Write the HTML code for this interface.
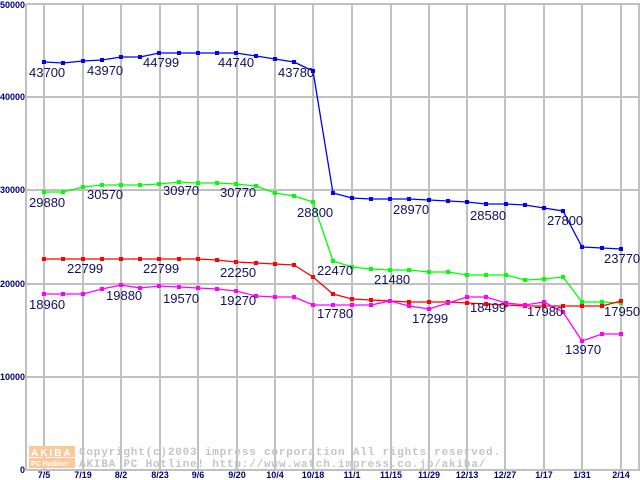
<!DOCTYPE html>
<html><head><meta charset="utf-8"><style>
html,body{margin:0;padding:0;background:#fff;}
svg{display:block;}
.yl{font:bold 9px "Liberation Sans",sans-serif;fill:#000080;}
.xl{font:bold 9px "Liberation Sans",sans-serif;fill:#000080;}
.v{font:13px "Liberation Sans",sans-serif;fill:#101060;}
.wm{font:bold 11px "Liberation Mono",monospace;fill:#c4c4c4;letter-spacing:0.8px;}
</style></head><body>
<svg width="640" height="480" viewBox="0 0 640 480" xmlns="http://www.w3.org/2000/svg">
<defs>
<marker id="mb" markerUnits="userSpaceOnUse" markerWidth="6" markerHeight="6" refX="3" refY="3"><rect width="4" height="4" x="1" y="1" fill="#0000ff"/></marker>
<marker id="mg" markerUnits="userSpaceOnUse" markerWidth="6" markerHeight="6" refX="3" refY="3"><rect width="4" height="4" x="1" y="1" fill="#00ff00"/></marker>
<marker id="mr" markerUnits="userSpaceOnUse" markerWidth="6" markerHeight="6" refX="3" refY="3"><rect width="4" height="4" x="1" y="1" fill="#ff0000"/></marker>
<marker id="mm" markerUnits="userSpaceOnUse" markerWidth="6" markerHeight="6" refX="3" refY="3"><rect width="4" height="4" x="1" y="1" fill="#ff00ff"/></marker>
</defs>
<g stroke="#c0c0c0" stroke-width="2">
<line x1="26" y1="4" x2="640" y2="4"/><line x1="26" y1="97" x2="640" y2="97"/>
<line x1="26" y1="190" x2="640" y2="190"/><line x1="26" y1="284" x2="640" y2="284"/>
<line x1="26" y1="377" x2="640" y2="377"/><line x1="26" y1="470" x2="640" y2="470"/>
<line x1="26" y1="4" x2="26" y2="470"/><line x1="639" y1="4" x2="639" y2="470"/>
<line x1="44" y1="4" x2="44" y2="470"/><line x1="83" y1="4" x2="83" y2="470"/>
<line x1="121" y1="4" x2="121" y2="470"/><line x1="160" y1="4" x2="160" y2="470"/>
<line x1="198" y1="4" x2="198" y2="470"/><line x1="237" y1="4" x2="237" y2="470"/>
<line x1="275" y1="4" x2="275" y2="470"/><line x1="313" y1="4" x2="313" y2="470"/>
<line x1="352" y1="4" x2="352" y2="470"/><line x1="391" y1="4" x2="391" y2="470"/>
<line x1="429" y1="4" x2="429" y2="470"/><line x1="467" y1="4" x2="467" y2="470"/>
<line x1="505" y1="4" x2="505" y2="470"/><line x1="544" y1="4" x2="544" y2="470"/>
<line x1="582" y1="4" x2="582" y2="470"/><line x1="621" y1="4" x2="621" y2="470"/>
</g>
<g text-anchor="end">
<text class="yl" x="25" y="8">50000</text><text class="yl" x="25" y="100">40000</text>
<text class="yl" x="25" y="193">30000</text><text class="yl" x="25" y="287">20000</text>
<text class="yl" x="25" y="380">10000</text><text class="yl" x="25" y="473">0</text>
</g>
<g text-anchor="middle">
<text class="xl" x="44" y="478">7/5</text><text class="xl" x="83" y="478">7/19</text>
<text class="xl" x="121" y="478">8/2</text><text class="xl" x="160" y="478">8/23</text>
<text class="xl" x="198" y="478">9/6</text><text class="xl" x="237" y="478">9/20</text>
<text class="xl" x="275" y="478">10/4</text><text class="xl" x="313" y="478">10/18</text>
<text class="xl" x="352" y="478">11/1</text><text class="xl" x="391" y="478">11/15</text>
<text class="xl" x="429" y="478">11/29</text><text class="xl" x="467" y="478">12/13</text>
<text class="xl" x="505" y="478">12/27</text><text class="xl" x="544" y="478">1/17</text>
<text class="xl" x="582" y="478">1/31</text><text class="xl" x="621" y="478">2/14</text>
</g>
<rect x="29" y="446" width="46" height="11" fill="#fbc89a"/>
<rect x="29" y="458" width="46" height="10" fill="#fbc89a"/>
<text x="31" y="456" style="font:bold 10px 'Liberation Sans',sans-serif;fill:#fff;letter-spacing:2px">AKIBA</text>
<text x="31" y="466" style="font:bold 7px 'Liberation Sans',sans-serif;fill:#fff">PC Hotline!</text>
<text class="wm" x="79" y="455">Copyright(c)2003 impress corporation All rights reserved.</text>
<text class="wm" x="79" y="467">AKIBA PC Hotline!  http://www.watch.impress.co.jp/akiba/</text>

<polyline fill="none" stroke="#0000ff" stroke-width="1.3" marker-start="url(#mb)" marker-mid="url(#mb)" marker-end="url(#mb)" points="44,62 63,63 83,61 102,60 121,57 140,57 159,53 179,53 198,53 217,53 236,53 256,56 275,59 294,62 313,71 333,193 352,198 371,199 390,199 409,199 429,200 448,201 467,202 486,204 506,204 525,205 544,208 563,211 582,247 602,248 621,249"/>
<polyline fill="none" stroke="#00ff00" stroke-width="1.3" marker-start="url(#mg)" marker-mid="url(#mg)" marker-end="url(#mg)" points="44,192 63,192 83,187 102,185 121,185 140,185 159,184 179,182 198,183 217,183 236,184 256,186 275,193 294,196 313,202 333,261 352,267 371,269 390,270 409,270 429,272 448,272 467,275 486,275 506,275 525,280 544,279 563,277 582,302 602,302 621,303"/>
<polyline fill="none" stroke="#ff0000" stroke-width="1.3" marker-start="url(#mr)" marker-mid="url(#mr)" marker-end="url(#mr)" points="44,259 63,259 83,259 102,259 121,259 140,259 159,259 179,259 198,259 217,260 236,262 256,263 275,264 294,265 313,277 333,294 352,299 371,300 390,301 409,302 429,302 448,302 467,303 486,304 506,305 525,306 544,306 563,306 582,306 602,306 621,301"/>
<polyline fill="none" stroke="#ff00ff" stroke-width="1.3" marker-start="url(#mm)" marker-mid="url(#mm)" marker-end="url(#mm)" points="44,294 63,294 83,294 102,289 121,285 140,288 159,286 179,287 198,288 217,289 236,291 256,296 275,297 294,297 313,305 333,305 352,305 371,305 390,301 409,306 429,309 448,303 467,297 486,297 506,303 525,305 544,302 563,312 582,341 602,334 621,334"/>

<text class="v" x="29" y="77">43700</text><text class="v" x="87" y="75">43970</text>
<text class="v" x="143" y="67">44799</text><text class="v" x="218" y="67">44740</text>
<text class="v" x="278" y="77">43780</text>
<text class="v" x="29" y="207">29880</text><text class="v" x="87" y="199">30570</text>
<text class="v" x="163" y="195">30970</text><text class="v" x="220" y="197">30770</text>
<text class="v" x="297" y="217">28800</text><text class="v" x="317" y="275">22470</text>
<text class="v" x="374" y="284">21480</text><text class="v" x="393" y="214">28970</text>
<text class="v" x="470" y="220">28580</text><text class="v" x="547" y="225">27800</text>
<text class="v" x="604" y="263">23770</text>
<text class="v" x="67" y="273">22799</text><text class="v" x="143" y="273">22799</text>
<text class="v" x="220" y="277">22250</text><text class="v" x="317" y="318">17780</text>
<text class="v" x="470" y="312">18499</text><text class="v" x="527" y="316">17980</text>
<text class="v" x="604" y="316">17950</text><text class="v" x="412" y="323">17299</text>
<text class="v" x="565" y="354">13970</text>
<text class="v" x="29" y="309">18960</text><text class="v" x="106" y="300">19880</text>
<text class="v" x="163" y="303">19570</text><text class="v" x="220" y="305">19270</text>
</svg>
</body></html>
